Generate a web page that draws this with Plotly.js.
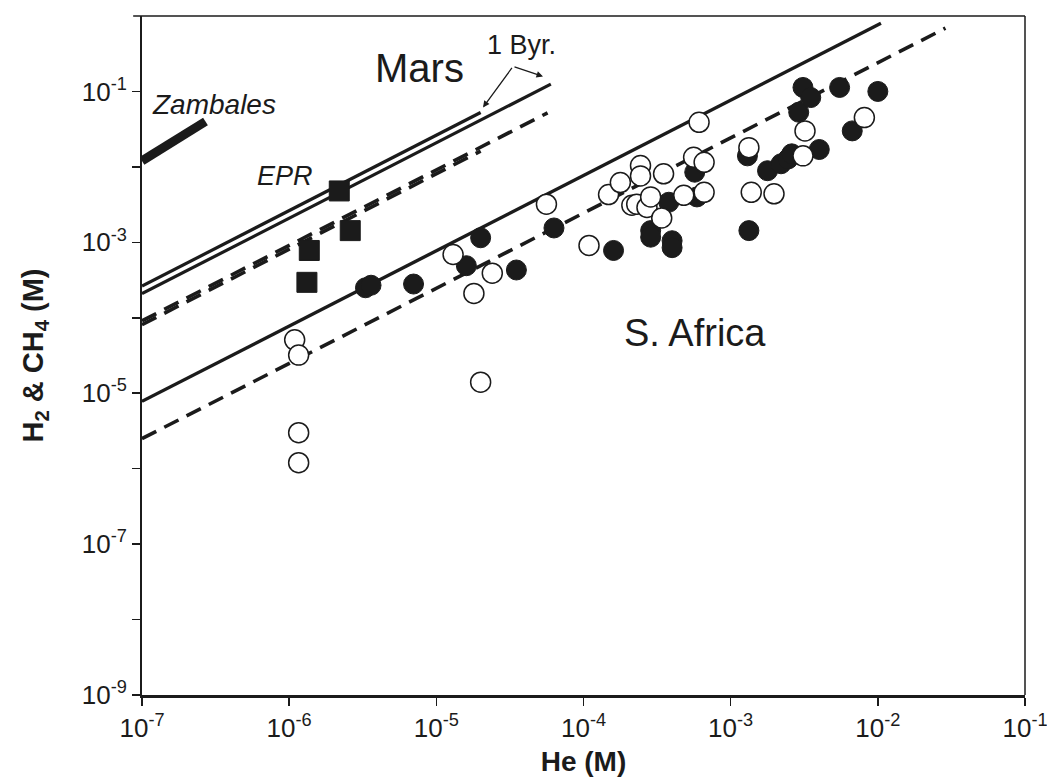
<!DOCTYPE html>
<html>
<head>
<meta charset="utf-8">
<script src="https://cdn.plot.ly/plotly-3.0.1.min.js"></script>
<style>html,body{margin:0;padding:0;background:#fff;}#chart{width:1047px;height:778px;}</style>
</head>
<body>
<div id="chart"></div>
<script>
// ---- Data ----
// South Africa, filled circles
const saFilledHe = [3.3e-6, 3.6e-6, 7.0e-6, 1.6e-5, 2.0e-5, 3.5e-5, 6.3e-5, 1.6e-4, 2.86e-4, 2.86e-4, 3.8e-4, 4.0e-4, 4.0e-4, 5.7e-4, 5.9e-4, 1.3e-3, 1.33e-3, 1.78e-3, 2.2e-3, 2.45e-3, 2.6e-3, 2.9e-3, 3.1e-3, 3.5e-3, 4.0e-3, 5.5e-3, 6.7e-3, 1.0e-2];
const saFilledGas = [2.5e-4, 2.7e-4, 2.8e-4, 4.9e-4, 1.15e-3, 4.3e-4, 1.55e-3, 7.8e-4, 1.43e-3, 1.17e-3, 3.4e-3, 1.05e-3, 8.5e-4, 8.5e-3, 4.0e-3, 0.014, 1.43e-3, 8.9e-3, 0.011, 0.0127, 0.0149, 0.053, 0.113, 0.083, 0.017, 0.113, 0.030, 0.1];
// South Africa, open circles
const saOpenHe = [1.09e-6, 1.16e-6, 1.16e-6, 1.16e-6, 1.3e-5, 1.8e-5, 2.0e-5, 2.4e-5, 5.6e-5, 1.09e-4, 1.48e-4, 1.78e-4, 2.13e-4, 2.3e-4, 2.44e-4, 2.44e-4, 2.7e-4, 2.86e-4, 3.4e-4, 3.5e-4, 4.8e-4, 5.6e-4, 6.1e-4, 6.6e-4, 6.6e-4, 1.33e-3, 1.38e-3, 1.97e-3, 3.1e-3, 3.2e-3, 8.1e-3];
const saOpenGas = [5.1e-5, 3.2e-5, 3.0e-6, 1.2e-6, 6.9e-4, 2.1e-4, 1.4e-5, 3.9e-4, 3.2e-3, 9.1e-4, 4.3e-3, 6.2e-3, 3.1e-3, 3.2e-3, 0.0104, 7.6e-3, 2.9e-3, 4.0e-3, 2.1e-3, 8.1e-3, 4.2e-3, 0.0134, 0.039, 0.0115, 4.6e-3, 0.018, 4.6e-3, 4.4e-3, 0.014, 0.030, 0.045];
// EPR, filled squares
const eprHe = [2.19e-6, 2.6e-6, 1.37e-6, 1.32e-6];
const eprGas = [4.8e-3, 1.43e-3, 7.8e-4, 2.95e-4];
// Zambales segment
const zambalesHe = [1e-7, 2.7e-7];
const zambalesGas = [0.012, 0.040];
// Mars model lines
const marsSolidAHe = [1e-7, 2.0e-5];
const marsSolidAGas = [2.63e-4, 0.0526];
const marsSolidBHe = [1e-7, 6.0e-5];
const marsSolidBGas = [2.09e-4, 0.125];
const marsDashAHe = [1e-7, 2.0e-5];
const marsDashAGas = [8.1e-5, 0.0162];
const marsDashBHe = [1e-7, 5.7e-5];
const marsDashBGas = [9.1e-5, 0.052];
// South Africa model lines
const saSolidHe = [1e-7, 1.05e-2];
const saSolidGas = [7.8e-6, 0.8];
const saDashHe = [1e-7, 2.88e-2];
const saDashGas = [2.5e-6, 0.69];
// Tick labels
const xTickVals = [1e-7, 1e-6, 1e-5, 1e-4, 1e-3, 1e-2, 1e-1];
const xTickText = ['10<sup>-7</sup>', '10<sup>-6</sup>', '10<sup>-5</sup>', '10<sup>-4</sup>', '10<sup>-3</sup>', '10<sup>-2</sup>', '10<sup>-1</sup>'];
const yTickVals = [1e-9, 1e-7, 1e-5, 1e-3, 1e-1];
const yTickText = ['10<sup>-9</sup>', '10<sup>-7</sup>', '10<sup>-5</sup>', '10<sup>-3</sup>', '10<sup>-1</sup>'];
const yMinorTickVals = [1e-8, 1e-6, 1e-4, 1e-2];

const INK = '#1b1b1b';
function line(x, y, w, dash) {
  return {x: x, y: y, type: 'scatter', mode: 'lines', showlegend: false, hoverinfo: 'skip',
          line: {color: INK, width: w, dash: dash || 'solid'}};
}
const dashPat = '16px,9px';
const traces = [
  line(zambalesHe, zambalesGas, 9),
  line(marsSolidAHe, marsSolidAGas, 3.2),
  line(marsSolidBHe, marsSolidBGas, 3.2),
  line(marsDashAHe, marsDashAGas, 3.6, dashPat),
  line(marsDashBHe, marsDashBGas, 3.6, dashPat),
  line(saSolidHe, saSolidGas, 3.4),
  line(saDashHe, saDashGas, 3.6, dashPat),
  {x: saFilledHe, y: saFilledGas, type: 'scatter', mode: 'markers', showlegend: false,
   marker: {symbol: 'circle', size: 20, color: INK, line: {color: INK, width: 1}}},
  {x: saOpenHe, y: saOpenGas, type: 'scatter', mode: 'markers', showlegend: false,
   marker: {symbol: 'circle', size: 20, color: '#ffffff', line: {color: INK, width: 1.5}}},
  {x: eprHe, y: eprGas, type: 'scatter', mode: 'markers', showlegend: false,
   marker: {symbol: 'square', size: 20, color: INK, line: {color: INK, width: 1}}}
];

const L = 142, R = 1025, T = 15.5, B = 695;
function px(xp) { return (xp - L) / (R - L); }
function py(yp) { return (B - yp) / (B - T); }

const FONT = 'Liberation Sans, Arial, sans-serif';
function label(xp, yp, text, size) {
  return {xref: 'paper', yref: 'paper', x: px(xp), y: py(yp), text: text, showarrow: false,
          xanchor: 'center', yanchor: 'middle', font: {size: size, family: FONT, color: INK}};
}
function arrow(hx, hy, tx, ty) {
  return {xref: 'paper', yref: 'paper', x: px(hx), y: py(hy), text: '', showarrow: true,
          xanchor: 'center', yanchor: 'middle',
          axref: 'pixel', ayref: 'pixel', ax: tx - hx, ay: ty - hy,
          arrowhead: 2, arrowsize: 1, arrowwidth: 1.3, arrowcolor: INK, standoff: 0, startstandoff: 0};
}
const layout = {
  width: 1047, height: 778,
  margin: {l: L, r: 1047 - R, t: T, b: 778 - B},
  paper_bgcolor: '#ffffff', plot_bgcolor: '#ffffff',
  font: {family: FONT, color: INK},
  xaxis: {
    type: 'log', range: [-7, -1], tickvals: xTickVals, ticktext: xTickText,
    ticks: 'outside', ticklen: 8, tickwidth: 1.5, tickcolor: INK,
    showline: true, linewidth: 3, linecolor: INK, mirror: false,
    showgrid: false, zeroline: false, ticklabeloverflow: 'allow',
    tickfont: {size: 26, family: FONT, color: INK},
    title: {text: '<b>He (M)</b>', font: {size: 28, family: FONT, color: INK}, standoff: 10}
  },
  yaxis: {
    type: 'log', range: [-9, 0], tickvals: yTickVals, ticktext: yTickText,
    ticks: 'outside', ticklen: 8, tickwidth: 1.5, tickcolor: INK,
    minor: {tickvals: yMinorTickVals, ticks: 'outside', ticklen: 8, tickwidth: 1.5, tickcolor: INK, showgrid: false},
    showline: true, linewidth: 2, linecolor: INK, mirror: false,
    showgrid: false, zeroline: false, ticklabeloverflow: 'allow',
    tickfont: {size: 26, family: FONT, color: INK},
    title: {text: '<b>H<sub>2</sub> & CH<sub>4</sub> (M)</b>', font: {size: 29, family: FONT, color: INK}, standoff: 30}
  },
  shapes: [
    {type: 'line', xref: 'paper', yref: 'paper', x0: -0.01, x1: 1, y0: 1, y1: 1, line: {color: INK, width: 1.5}},
    {type: 'line', xref: 'paper', yref: 'paper', x0: 1, x1: 1, y0: 0, y1: 1, line: {color: INK, width: 1.5}}
  ],
  annotations: [
    label(419, 68, 'Mars', 40),
    label(521, 45, '1 Byr.', 27),
    label(214, 104, '<i>Zambales</i>', 28),
    label(285, 176, '<i>EPR</i>', 27),
    label(695, 333, 'S. Africa', 38),
    arrow(483, 107, 513, 66),
    arrow(543, 76, 513, 66)
  ]
};

Plotly.newPlot('chart', traces, layout, {displayModeBar: false, staticPlot: true});
</script>
</body>
</html>
